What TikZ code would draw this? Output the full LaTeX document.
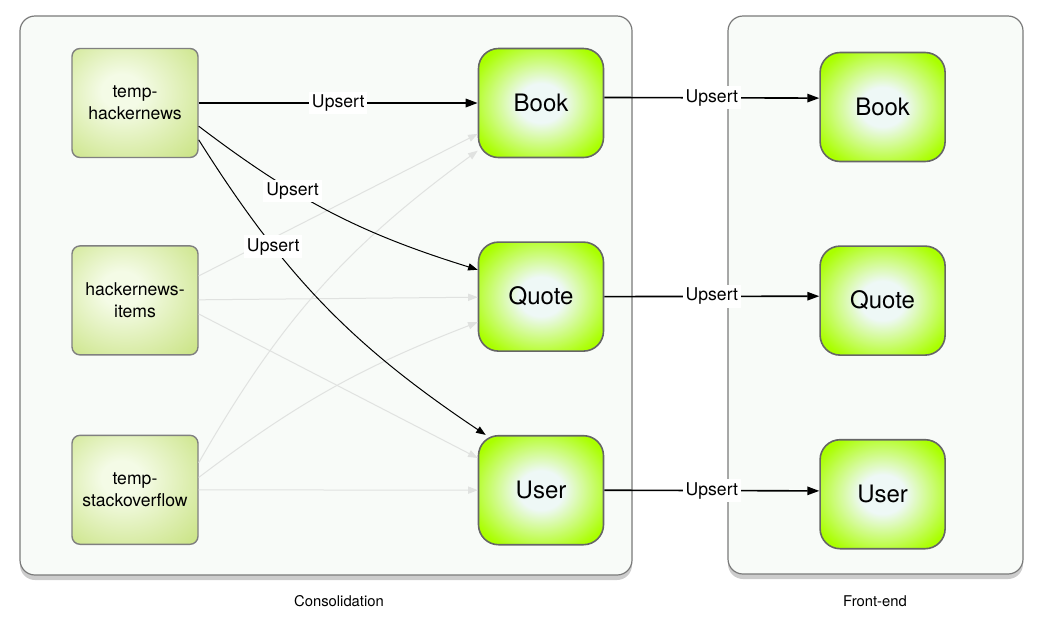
\documentclass[tikz,border=0pt]{standalone}
\usepackage{fontspec}
\setmainfont{TeX Gyre Heros}
\usetikzlibrary{positioning, arrows.meta, shadows}
\definecolor{panelfill}{HTML}{F8FBF8}
\definecolor{panelline}{HTML}{7A7A7A}
\definecolor{srcin}{HTML}{F4FBE6}
\definecolor{srcout}{HTML}{C2DF72}
\definecolor{limein}{HTML}{EEF8F6}
\definecolor{limemid}{HTML}{AAFF00}
\definecolor{limeout}{HTML}{7CC83C}
\definecolor{boxline}{HTML}{808080}
\definecolor{faintgray}{HTML}{E0E2E0}
\pgfdeclareradialshading{srcshade}{\pgfpoint{-6bp}{6bp}}{color(0bp)=(srcin); color(8bp)=(srcin); color(44bp)=(srcout); color(70bp)=(srcout)}
\pgfdeclareradialshading{limeshade}{\pgfpointorigin}{color(0bp)=(limein); color(9bp)=(limein); color(30bp)=(limemid); color(46bp)=(limemid); color(70bp)=(limeout)}
\tikzset{x=0.5pt, y=-0.5pt, % one unit is one pixel of the sketch
panel/.style={ % the two big groups
draw=panelline, line width=0.6pt, fill=panelfill, rounded corners=7.5pt,
drop shadow={shadow xshift=0pt, shadow yshift=-2.5pt, opacity=0.4}},
srcbox/.style={ % source tables on the left
draw=boxline, line width=0.7pt, rounded corners=4pt, shading=srcshade,
minimum width=63pt, minimum height=54.5pt, align=center,
font=\fontsize{8.8}{11}\selectfont},
entity/.style={ % green collections
draw=boxline!80!black, line width=0.8pt, rounded corners=10pt, shading=limeshade,
minimum width=62.5pt, minimum height=54.5pt,
font=\fontsize{12}{14}\selectfont},
upsert/.style={fill=white, inner sep=1.5pt, font=\fontsize{8.8}{10}\selectfont},
grouplabel/.style={font=\fontsize{7.4}{9}\selectfont},
every edge/.style={ % all connectors
draw, ->, >={Triangle[length=4.8pt, width=3.6pt]}, line width=0.5pt},
strong/.style={line width=1pt, >={Triangle[length=6pt, width=4.2pt]}},
main/.style={line width=0.8pt, >={Triangle[length=6pt, width=4.2pt]}},
faint/.style={draw=faintgray}}

\begin{document}
\begin{tikzpicture}
    \useasboundingbox (0,0) rectangle (1044,618);

    % groups
    \node[panel, minimum width=306pt, minimum height=279.5pt] (cons) at (326,295.5) {};
    \node[panel, minimum width=147.5pt, minimum height=279pt] (front) at (875.5,295) {};
    \node[grouplabel] at (339,601) {Consolidation};
    \node[grouplabel] at (875,601) {Front-end};

    % sources
    \node[srcbox] (thn) at (135,103) {temp-\\hackernews};
    \node[srcbox, below=43.5pt of thn] (hni) {hackernews-\\items};
    \node[srcbox, below=39.5pt of hni] (tso) {temp-\\stackoverflow};

    % consolidated collections
    \node[entity, right=139.5pt of thn] (cbook) {Book};
    \node[entity, below=41.5pt of cbook] (cquote) {Quote};
    \node[entity, below=41.5pt of cquote] (cuser) {User};

    % front-end collections
    \node[entity, right=107.5pt of cbook, yshift=-2pt] (fbook) {Book};
    \node[entity, right=107.5pt of cquote, yshift=-2pt] (fquote) {Quote};
    \node[entity, right=107.5pt of cuser, yshift=-2pt] (fuser) {User};

    % unused flows
    \draw (hni.21) edge[faint] (cbook.206);
    \draw (hni) edge[faint] (cquote);
    \draw (hni.-12) edge[faint] (cuser.153);
    \draw (tso.23) edge[faint, bend left=12] (cbook.217);
    \draw (tso.11) edge[faint, bend left=8] (cquote.202);
    \draw (tso) edge[faint] (cuser);

    % flows from temp-hackernews
    \draw (thn.east) edge[strong] node[upsert] {Upsert} (cbook.west);
    \draw (thn.-20) edge[bend right=10] node[upsert, pos=0.35] {Upsert} (cquote.157);
    \draw (thn.-30) edge[bend right=12] node[upsert, pos=0.3] {Upsert} (cuser.135);

    % to the front-end
    \draw (cbook.5) edge[main] node[upsert] {Upsert} (fbook.172);
    \draw (cquote.east) edge[main] node[upsert] {Upsert} (fquote.176);
    \draw (cuser.east) edge[main] node[upsert] {Upsert} (fuser.177);

\end{tikzpicture}
\end{document}
